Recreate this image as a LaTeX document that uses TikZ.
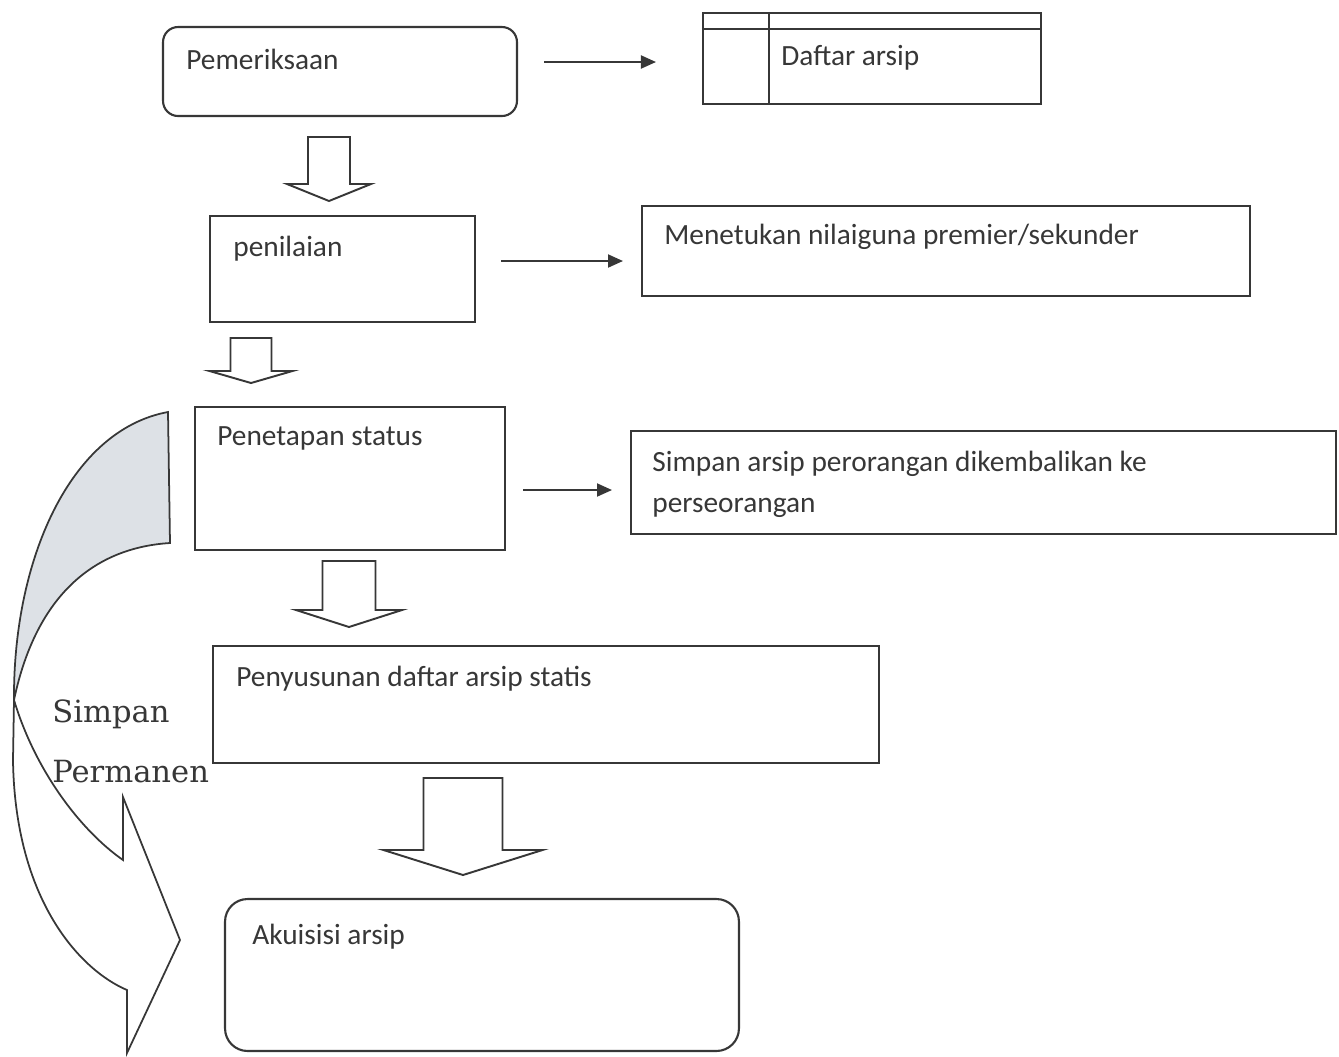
\documentclass[tikz,border=0pt]{standalone}
\usepackage{fontspec}
\newfontfamily\carlito{Carlito}
\newfontfamily\dvserif{DejaVu Serif}
\usetikzlibrary{arrows.meta,calc}
\definecolor{inkgray}{RGB}{55,55,55}
\definecolor{bandgray}{RGB}{221,225,230}

\begin{document}
\begin{tikzpicture}[x=0.02cm, y=-0.02cm,
  box/.style={draw=inkgray, line width=1.2pt, inner sep=0pt},
  roundbox/.style={box, rounded corners=0.3cm},
  rule/.style={draw=inkgray, line width=1.2pt},
  txt/.style={anchor=base west, inner sep=0pt, text=inkgray, font=\carlito\fontsize{16.7}{24}\selectfont},
  serif/.style={anchor=base west, inner sep=0pt, text=inkgray, font=\dvserif\fontsize{17.4}{24}\selectfont},
  link/.style={draw=inkgray, line width=1.1pt, -{Triangle[length=0.3cm, width=0.26cm]}},
  blockarrow/.style={draw=inkgray, line width=1.1pt, fill=white, line join=miter},
  band/.style={draw=inkgray, line width=1pt}]

\useasboundingbox (0,0) rectangle (1339,1056);

% curved arrow on the left
\fill[bandgray] (168,412) .. controls (70,430) and (13,560) .. (14,700) .. controls (35,600) and (90,548) .. (170,543) -- cycle;
\draw[band] (168,412) .. controls (70,430) and (13,560) .. (14,700) -- (13,760) .. controls (15,900) and (80,970) .. (127,990) -- (127,1053) -- (180,940) -- (123,797) -- (123,860) .. controls (80,830) and (35,770) .. (14,700) .. controls (35,600) and (90,548) .. (170,543) -- cycle;

% boxes
\node[roundbox, minimum width=7.08cm, minimum height=1.78cm] (pem) at (340,71.5) {};
\node[box, minimum width=6.76cm, minimum height=1.82cm] (daf) at (872,58.5) {};
\draw[rule] ($(daf.north west)+(0,17)$) -- ($(daf.north east)+(0,17)$);
\draw[rule] ($(daf.north west)+(67,0)$) -- ($(daf.south west)+(67,0)$);
\node[box, minimum width=5.3cm, minimum height=2.12cm] (pen) at (342.5,269) {};
\node[box, minimum width=12.16cm, minimum height=1.8cm] (nil) at (946,251) {};
\node[box, minimum width=6.2cm, minimum height=2.86cm] (sta) at (350,478.5) {};
\node[box, minimum width=14.1cm, minimum height=2.06cm] (kem) at (983.5,482.5) {};
\node[box, minimum width=13.32cm, minimum height=2.34cm] (sus) at (546,704.5) {};
\node[box, rounded corners=0.45cm, minimum width=10.28cm, minimum height=3.04cm] (aku) at (482,975) {};

% texts
\node[txt] (tpem) at (186,69) {Pemeriksaan};
\node[txt] (tdaf) at (781,65) {Daftar arsip};
\node[txt] (tpen) at (233,256) {penilaian};
\node[txt] (tnil) at (664,244) {Menetukan nilaiguna premier/sekunder};
\node[txt] (tsta) at (217,445) {Penetapan status};
\node[txt] (tkem) at (652,471) {Simpan arsip perorangan dikembalikan ke};
\node[txt] (tkemb) at (652,512) {perseorangan};
\node[txt] (tsus) at (236,686) {Penyusunan daftar arsip statis};
\node[txt] (taku) at (252,944) {Akuisisi arsip};
\node[serif] (tsim) at (52,722) {Simpan};
\node[serif] (tper) at (52,782) {Permanen};

% side arrows
\draw[link] ($(pem.east)+(26,-9.5)$) -- ($(daf.west |- pem.east)+(-46,-9.5)$);
\draw[link] ($(pen.east)+(25,-8)$) -- ($(nil.west |- pen.east)+(-18,-8)$);
\draw[link] ($(sta.east)+(17,11.5)$) -- ($(kem.west |- sta.east)+(-18,11.5)$);

% block arrows down
\foreach \cx/\ytop/\sw/\yh/\hw/\ytip in {329/137/21/184/42/201, 251/338/20.5/371/41.5/383, 349/561/26.5/610/53/627, 463/778/39.5/850/79.5/875}
  \draw[blockarrow] (\cx-\sw,\ytop) -- (\cx+\sw,\ytop) -- (\cx+\sw,\yh) -- (\cx+\hw,\yh) -- (\cx,\ytip) -- (\cx-\hw,\yh) -- (\cx-\sw,\yh) -- cycle;

\end{tikzpicture}
\end{document}
